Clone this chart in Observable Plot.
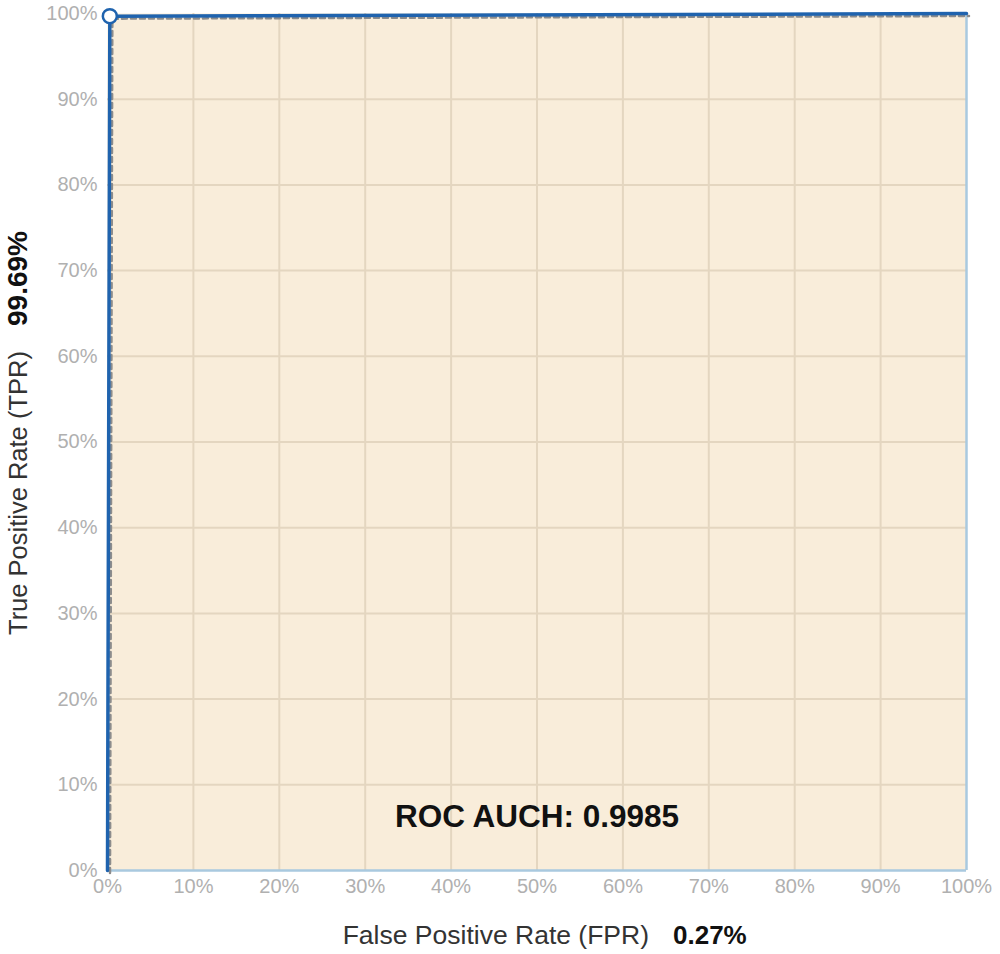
<!DOCTYPE html>
<html>
<head>
<meta charset="utf-8">
<script src="https://cdn.jsdelivr.net/npm/d3@7"></script>
<script src="https://cdn.jsdelivr.net/npm/@observablehq/plot@0.6"></script>
<style>
  html, body { margin: 0; padding: 0; background: #fff; }
  svg { overflow: visible; }
</style>
</head>
<body>
<div id="chart"></div>
<script>
// ROC curve points (FPR, TPR)
const rocFPR = [0, 0.0027, 1];
const rocTPR = [0, 0.9969, 1];
// Convex hull points
const hullFPR = [0, 0.0027, 1];
const hullTPR = [0, 0.9969, 1];
// Operating point
const opFPR = [0.0027];
const opTPR = [0.9969];
// Ticks
const tickValues = [0, 0.1, 0.2, 0.3, 0.4, 0.5, 0.6, 0.7, 0.8, 0.9, 1];
const tickLabels = ["0%", "10%", "20%", "30%", "40%", "50%", "60%", "70%", "80%", "90%", "100%"];
// Texts
const xLabel = "False Positive Rate (FPR)";
const xValue = "0.27%";
const yLabel = "True Positive Rate (TPR)";
const yValue = "99.69%";
const aucText = "ROC AUCH: 0.9985";

const roc = rocFPR.map((x, i) => ({x, y: rocTPR[i]}));
const hull = hullFPR.map((x, i) => ({x, y: hullTPR[i]}));
const op = opFPR.map((x, i) => ({x, y: opTPR[i]}));
const fmt = d => tickLabels[tickValues.indexOf(d)] ?? "";

const FONT = "'Liberation Sans', Arial, Helvetica, sans-serif";

const chart = Plot.plot({
  width: 1000,
  height: 954,
  marginLeft: 107,
  marginRight: 34,
  marginTop: 13,
  marginBottom: 84,
  style: {fontFamily: FONT, fontSize: "20px", color: "#b0b0b0", background: "#fff"},
  x: {domain: [0, 1], ticks: tickValues, tickFormat: fmt, tickSize: 0, tickPadding: 8, label: null},
  y: {domain: [0, 1], ticks: tickValues, tickFormat: fmt, tickSize: 0, tickPadding: 10, label: null},
  marks: [
    Plot.frame({fill: "#f9edda", stroke: "none"}),
    Plot.ruleX(tickValues.slice(1, -1), {stroke: "#e4d6c0", strokeWidth: 2}),
    Plot.ruleY(tickValues.slice(1, -1), {stroke: "#e4d6c0", strokeWidth: 2}),
    Plot.ruleY([0], {stroke: "#a9c9df", strokeWidth: 2.5}),
    Plot.ruleX([1], {stroke: "#a9c9df", strokeWidth: 2.5}),
    Plot.line(hull, {x: "x", y: "y", stroke: "#8c8c8c", strokeWidth: 2.5, strokeDasharray: "5,4", dx: 2.5, dy: 2.5}),
    Plot.line(roc, {x: "x", y: "y", stroke: "#1f63ae", strokeWidth: 3.5}),
    Plot.dot(op, {x: "x", y: "y", r: 7, fill: "#fff", stroke: "#1f63ae", strokeWidth: 2.5}),
    Plot.text([aucText], {frameAnchor: "bottom", dy: -44, fontSize: 31.5, fontWeight: "bold", fill: "#111", fontFamily: FONT}),
    Plot.text([xLabel], {frameAnchor: "bottom", dx: 112, dy: 73, textAnchor: "end", fontSize: 26.5, fill: "#333", fontFamily: FONT}),
    Plot.text([xValue], {frameAnchor: "bottom", dx: 136, dy: 73, textAnchor: "start", fontSize: 26, fontWeight: "bold", fill: "#111", fontFamily: FONT}),
    Plot.text([yLabel], {frameAnchor: "left", dx: -89, dy: 193, rotate: -90, textAnchor: "start", fontSize: 25.5, fill: "#333", fontFamily: FONT}),
    Plot.text([yValue], {frameAnchor: "left", dx: -89, dy: -116, rotate: -90, textAnchor: "start", fontSize: 28, fontWeight: "bold", fill: "#111", fontFamily: FONT})
  ]
});
document.getElementById("chart").appendChild(chart);
</script>
</body>
</html>
